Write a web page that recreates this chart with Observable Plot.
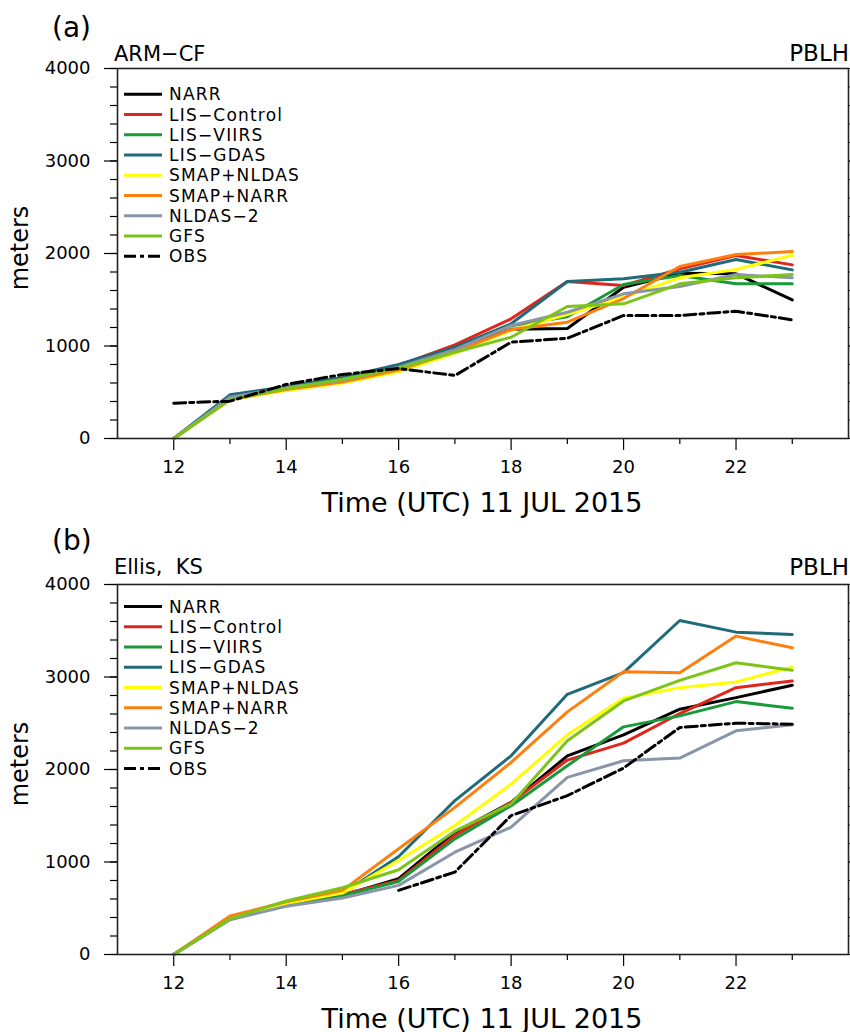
<!DOCTYPE html>
<html><head><meta charset="utf-8">
<script src="https://cdn.jsdelivr.net/npm/d3@7"></script>
<script src="https://cdn.jsdelivr.net/npm/@observablehq/plot@0.6"></script>
<style>
body{margin:0;background:#fff;}
#chart{width:850px;}
#chart svg{overflow:visible;display:block;}
</style></head><body><div id="chart"></div>
<script>
// ---- data ----
const hours = [12,13,14,15,16,17,18,19,20,21,22,23];
const series = ["NARR","LIS−Control","LIS−VIIRS","LIS−GDAS","SMAP+NLDAS","SMAP+NARR","NLDAS−2","GFS","OBS"];
const colors = ["#000000","#e0261a","#18993a","#1f6b7a","#ffff00","#ff7f0e","#8a95a8","#7cc41a","#000000"];

// Panel (a) ARM-CF
const aNARR      = [0,430,540,630,750,950,1180,1190,1636,1787,1780,1499];
const aLISControl= [0,440,550,640,790,1013,1294,1697,1654,1834,1978,1877];
const aLISVIIRS  = [0,430,545,640,780,973,1220,1316,1665,1762,1672,1672];
const aLISGDAS   = [0,472,560,660,800,987,1240,1697,1726,1798,1935,1823];
const aSMAPNLDAS = [0,420,520,600,720,920,1170,1340,1528,1737,1827,1981];
const aSMAPNARR  = [0,420,530,610,740,940,1178,1257,1513,1859,1989,2021];
const aNLDAS2    = [0,447,550,630,770,960,1222,1365,1564,1643,1773,1737];
const aGFS       = [0,420,540,640,760,933,1095,1427,1456,1672,1737,1773];
const aOBS       = [382,404,584,692,757,681,1041,1084,1330,1330,1376,1283];

// Panel (b) Ellis, KS
const bNARR      = [0,390,540,639,819,1322,1645,2148,2375,2652,2777,2911];
const bLISControl= [0,400,545,650,800,1286,1645,2102,2285,2605,2885,2957];
const bLISVIIRS  = [0,380,535,635,790,1250,1609,2041,2461,2580,2734,2663];
const bLISGDAS   = [0,400,555,660,1060,1663,2148,2813,3047,3611,3485,3460];
const bSMAPNLDAS = [0,395,550,664,1017,1394,1843,2375,2770,2885,2946,3108];
const bSMAPNARR  = [0,416,570,693,1143,1591,2076,2623,3057,3047,3442,3316];
const bNLDAS2    = [0,375,521,610,747,1106,1376,1915,2095,2124,2418,2483];
const bGFS       = [0,385,578,722,916,1333,1628,2310,2741,2964,3154,3072];
const bOBS       = [null,null,null,null,693,891,1502,1717,2016,2454,2501,2490];

const xMajor = [12,14,16,18,20,22];
const xMinor = [13,15,17,19,21,23];
const yMajor = [0,1000,2000,3000,4000];
const yMinor = d3.range(0,4001,200);

const panels = [
  {tag:"(a)", site:"ARM−CF", vals:[aNARR,aLISControl,aLISVIIRS,aLISGDAS,aSMAPNLDAS,aSMAPNARR,aNLDAS2,aGFS,aOBS],
   tagY:37, siteY:61, varY:61, legY:94.3},
  {tag:"(b)", site:"Ellis,  KS", vals:[bNARR,bLISControl,bLISVIIRS,bLISGDAS,bSMAPNLDAS,bSMAPNARR,bNLDAS2,bGFS,bOBS],
   tagY:34, siteY:58, varY:59, legY:90.5}
];

const FONT = "DejaVu Sans";
const DASH = "12,4,4,4";
const fmt = d => String(d);

function panel(p) {
  const marks = [
    Plot.axisX(xMinor, {tickSize:6, tickFormat:()=>"", label:null, strokeWidth:1.2}),
    Plot.axisX(xMajor, {tickSize:12, tickFormat:()=>"", label:null, strokeWidth:1.2}),
    Plot.text(xMajor, {x:d=>d, text:fmt, frameAnchor:"bottom", dy:34, fontSize:18, fill:"#000"}),
    Plot.axisY(yMinor, {tickSize:7, tickFormat:()=>"", label:null, strokeWidth:1.2}),
    Plot.axisY(yMajor, {tickSize:13, tickPadding:14, fontSize:18, tickFormat:fmt, label:null, strokeWidth:1.2}),
    Plot.axisY(yMinor, {anchor:"right", tickSize:7, tickFormat:()=>"", label:null, strokeWidth:1.2}),
    Plot.axisY(yMajor, {anchor:"right", tickSize:13, tickFormat:()=>"", label:null, strokeWidth:1.2})
  ];
  series.forEach((name, i) => {
    const rows = hours.map((h, j) => ({h, v: p.vals[i][j]}));
    marks.push(Plot.line(rows, {x:"h", y:"v", stroke:colors[i], strokeWidth:3,
      strokeDasharray: name === "OBS" ? DASH : undefined, strokeLinejoin:"miter"}));
  });
  marks.push(Plot.frame({stroke:"#222", strokeWidth:1.6}));
  const svg = Plot.plot({
    width:850, height:516, marginTop:68, marginBottom:78, marginLeft:117, marginRight:2,
    x:{domain:[11,24]}, y:{domain:[0,4000]},
    style:{fontFamily:FONT, fontSize:"18px", color:"#000", background:"#fff", overflow:"visible"},
    marks
  });
  const s = d3.select(svg);
  const t = (x, y, txt, size, anchor="start") => s.append("text").attr("x", x).attr("y", y)
      .attr("font-family", FONT).attr("font-size", size).attr("text-anchor", anchor).attr("fill", "#000")
      .style("white-space","pre").text(txt);
  t(52, p.tagY, p.tag, 28);
  t(114, p.siteY, p.site, 21);
  t(849, p.varY, "PBLH", 23, "end");
  t(482, 512, "Time (UTC) 11 JUL 2015", 27, "middle");
  s.append("text").attr("transform", "translate(28,248) rotate(-90)")
    .attr("font-family", FONT).attr("font-size", 24).attr("text-anchor", "middle").attr("fill", "#000").text("meters");
  series.forEach((name, i) => {
    const y = p.legY + i * 20.25;
    s.append("line").attr("x1", 124).attr("x2", 162).attr("y1", y).attr("y2", y)
      .attr("stroke", colors[i]).attr("stroke-width", 3)
      .attr("stroke-dasharray", name === "OBS" ? DASH : null);
    s.append("text").attr("x", 169).attr("y", y).attr("dy", "0.36em").attr("text-anchor", "start")
      .attr("font-family", FONT).attr("font-size", 17).attr("letter-spacing", "1.2px")
      .attr("fill", "#000").text(name);
  });
  return svg;
}

const root = document.getElementById("chart");
panels.forEach(p => root.appendChild(panel(p)));
</script>
</body></html>
